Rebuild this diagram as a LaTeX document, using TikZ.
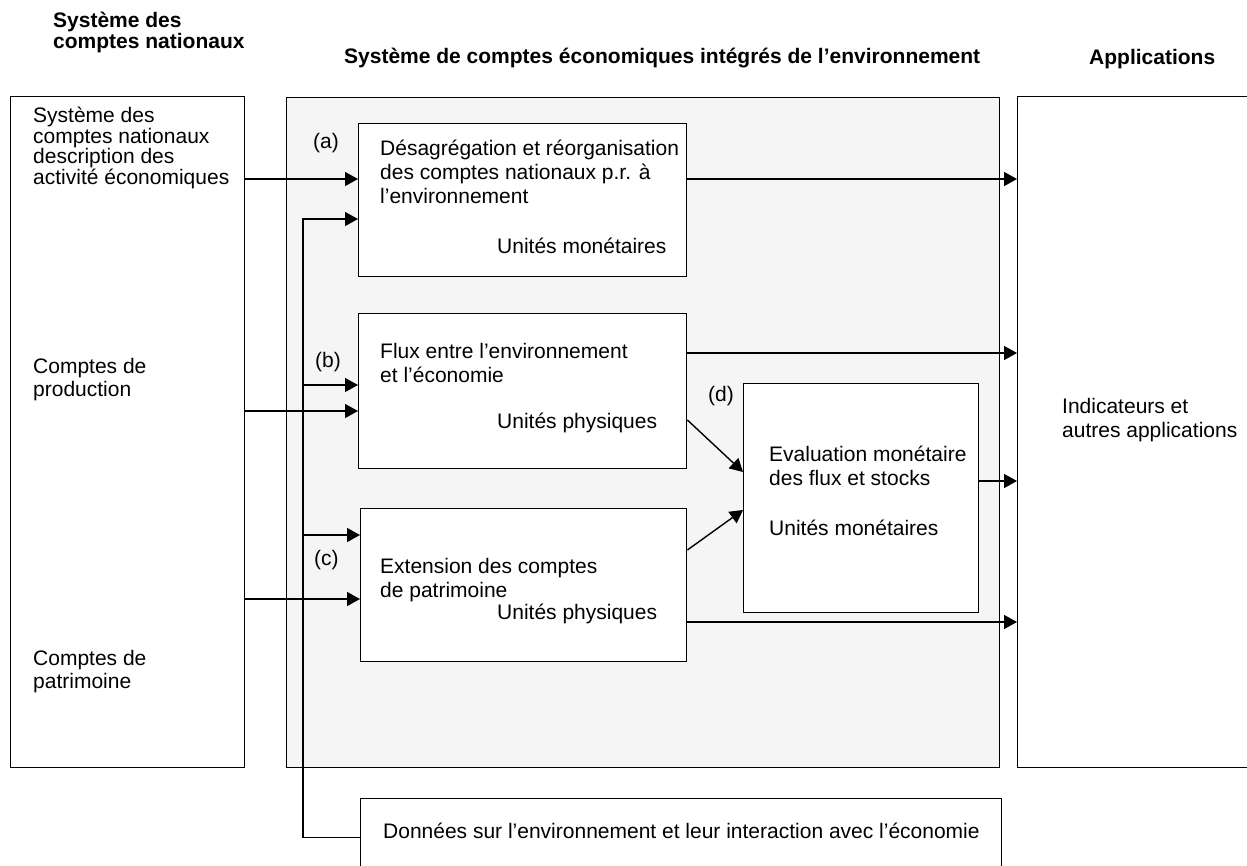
\documentclass[tikz,border=0pt]{standalone}
\usepackage{fontspec}
\setmainfont{Liberation Sans}
\usetikzlibrary{arrows.meta,positioning}
\definecolor{PanelFill}{HTML}{F5F5F5}

\tikzset{
  box/.style={draw, line width=1.4pt, fill=white, inner sep=0pt, anchor=north west},
  lbl/.style={anchor=base west, inner sep=0pt, align=left, font=\fontsize{21}{24}\selectfont},
  head/.style={lbl, font=\bfseries\fontsize{21}{21}\selectfont},
  arr/.style={-{Triangle[length=13pt,width=14pt]}, line width=1.4pt},
}

\begin{document}
\begin{tikzpicture}[x=1pt,y=-1pt]
  \useasboundingbox[fill=white] (0,0) rectangle (1247,865);

  % column headers (base = last line)
  \node[head] (hsnc) at (53,48) {Système des\\comptes nationaux};
  \node[head] (hseea) at (344,63) {Système de comptes économiques intégrés de l’environnement};
  \node[head] (happ) at (1089,64) {Applications};

  % the three columns
  \node[box, minimum width=234pt, minimum height=671pt] (L) at (10,96) {};
  \node[box, fill=PanelFill, minimum width=713pt, minimum height=670pt] (M) at (286,97) {};
  \node[box, minimum width=250pt, minimum height=671pt] (R) at (1017,96) {};

  % boxes inside the panel
  \node[box, minimum width=328pt, minimum height=153pt] (A) at (358,123) {};
  \node[box, minimum width=328pt, minimum height=155pt] (B) at (358,313) {};
  \node[box, minimum width=326pt, minimum height=153pt] (C) at (360,508) {};
  \node[box, minimum width=235pt, minimum height=229pt] (D) at (743,383) {};
  \node[box, minimum width=641pt, minimum height=78pt] (E) at (360,798) {};

  % texts
  \node[lbl, font=\fontsize{21}{20.5}\selectfont] (tsnc) at (33,184)
    {Système des\\comptes nationaux\\description des\\activité économiques};
  \node[lbl, font=\fontsize{21}{23}\selectfont] (tprod) at (33,396) {Comptes de\\production};
  \node[lbl, font=\fontsize{21}{23}\selectfont] (tpat) at (33,688) {Comptes de\\patrimoine};

  \node[lbl] (ta) at (380,203)
    {Désagrégation et réorganisation\\des comptes nationaux p.r. à\\l’environnement};
  \node[lbl] (ua) at (497,253) {Unités monétaires};
  \node[lbl] (tb) at (380,382) {Flux entre l’environnement\\et l’économie};
  \node[lbl] (ub) at (497,428) {Unités physiques};
  \node[lbl] (tc) at (380,597) {Extension des comptes\\de patrimoine};
  \node[lbl] (uc) at (497,619) {Unités physiques};
  \node[lbl] (td) at (769,485) {Evaluation monétaire\\des flux et stocks};
  \node[lbl] (ud) at (769,535) {Unités monétaires};
  \node[lbl] (tind) at (1062,437) {Indicateurs et\\autres applications};
  \node[lbl] (te) at (383,838)
    {Données sur l’environnement et leur interaction avec l’économie};

  \node[lbl] (la) at (313,148) {(a)};
  \node[lbl] (lb) at (315,367) {(b)};
  \node[lbl] (lc) at (314,565) {(c)};
  \node[lbl] (ld) at (708,401) {(d)};

  % national accounts -> panel
  \draw[arr] (L.east |- 0,179) -- (A.west |- 0,179);
  \draw[arr] (L.east |- 0,411) -- (B.west |- 0,411);
  \draw[arr] (L.east |- 0,599) -- (C.west |- 0,599);

  % environmental data feed
  \coordinate (feeda) at (303,219);
  \coordinate (feedb) at (303,385);
  \coordinate (feedc) at (303,535);
  \draw[arr] (E.west) -| (feeda) -- (A.west |- feeda);
  \draw[arr] (feedb) -- (B.west |- feedb);
  \draw[arr] (feedc) -- (C.west |- feedc);

  % to valuation
  \draw[arr] (B.east |- 0,420) -- (D.west |- 0,472);
  \draw[arr] (C.east |- 0,550) -- (D.west |- 0,510);

  % panel -> applications
  \draw[arr] (A.east |- 0,179) -- (R.west |- 0,179);
  \draw[arr] (B.east |- 0,353) -- (R.west |- 0,353);
  \draw[arr] (D.east |- 0,481) -- (R.west |- 0,481);
  \draw[arr] (C.east |- 0,622) -- (R.west |- 0,622);
\end{tikzpicture}
\end{document}
